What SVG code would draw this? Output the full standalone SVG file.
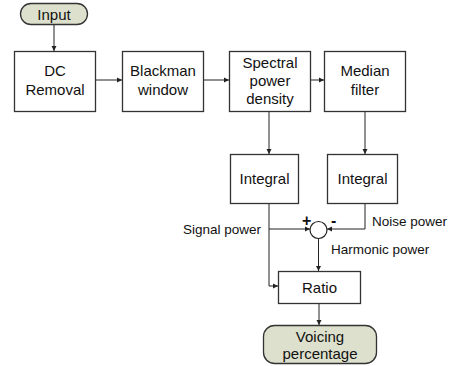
<svg xmlns="http://www.w3.org/2000/svg" width="453" height="366" viewBox="0 0 453 366">
<defs>
<style>
.box{fill:#fff;stroke:#333;stroke-width:1.3}
.term{fill:#dde0cc;stroke:#333;stroke-width:1.3}
.t{font-family:"Liberation Sans",Arial,sans-serif;font-size:15px;fill:#111;text-anchor:middle}
.l{font-family:"Liberation Sans",Arial,sans-serif;font-size:13.5px;fill:#111}
.s{font-family:"Liberation Sans",Arial,sans-serif;font-size:16px;font-weight:bold;fill:#111}
.c{fill:none;stroke:#222;stroke-width:1}
</style>
<marker id="a" markerWidth="6" markerHeight="6" refX="5" refY="3" orient="auto" markerUnits="userSpaceOnUse">
<path d="M0,0.5 L5,3 L0,5.5 Z" fill="#222"/>
</marker>
</defs>
<rect width="453" height="366" fill="#fff"/>
<g id="connectors">
<path class="c" d="M54,25 V51" marker-end="url(#a)"/>
<path class="c" d="M95,80 H122" marker-end="url(#a)"/>
<path class="c" d="M203,80 H229" marker-end="url(#a)"/>
<path class="c" d="M310,80 H324" marker-end="url(#a)"/>
<path class="c" d="M269,111 V154" marker-end="url(#a)"/>
<path class="c" d="M365,111 V154" marker-end="url(#a)"/>
<path class="c" d="M269,203 V286 H278" marker-end="url(#a)"/>
<path class="c" d="M269,229 H310" marker-end="url(#a)"/>
<path class="c" d="M365,203 V229 H327" marker-end="url(#a)"/>
<path class="c" d="M318.5,238.5 V271" marker-end="url(#a)"/>
<path class="c" d="M319,303 V325" marker-end="url(#a)"/>
</g>
<g id="input"><rect class="term" x="20.5" y="3.5" width="67" height="21" rx="10.5"/><text class="t" x="54" y="19.5">Input</text></g>
<g id="dc"><rect class="box" x="14.5" y="51.5" width="81" height="60"/><text class="t" x="55" y="76">DC</text><text class="t" x="55" y="95">Removal</text></g>
<g id="blackman"><rect class="box" x="122.5" y="51.5" width="81" height="60"/><text class="t" x="163" y="76">Blackman</text><text class="t" x="163" y="95">window</text></g>
<g id="psd"><rect class="box" x="229.5" y="51.5" width="81" height="60"/><text class="t" x="270" y="68">Spectral</text><text class="t" x="270" y="86">power</text><text class="t" x="270" y="104">density</text></g>
<g id="median"><rect class="box" x="324.5" y="51.5" width="81" height="60"/><text class="t" x="365" y="76">Median</text><text class="t" x="365" y="95">filter</text></g>
<g id="integral1"><rect class="box" x="230.5" y="154.5" width="68" height="49"/><text class="t" x="264.5" y="184">Integral</text></g>
<g id="integral2"><rect class="box" x="327.5" y="154.5" width="70" height="49"/><text class="t" x="362.5" y="184">Integral</text></g>
<g id="sum"><circle cx="318.5" cy="230" r="8.5" fill="#fff" stroke="#222" stroke-width="1.2"/><text class="s" x="302" y="226">+</text><text class="s" x="331" y="226">-</text></g>
<g id="ratio"><rect class="box" x="278.5" y="271.5" width="82" height="32"/><text class="t" x="319.5" y="293">Ratio</text></g>
<g id="voicing"><rect class="term" x="263.5" y="325.5" width="113" height="38" rx="11"/><text class="t" x="320" y="342">Voicing</text><text class="t" x="320" y="359">percentage</text></g>
<g id="labels">
<text class="l" x="183" y="234">Signal power</text>
<text class="l" x="372" y="226">Noise power</text>
<text class="l" x="331" y="254">Harmonic power</text>
</g>
</svg>
